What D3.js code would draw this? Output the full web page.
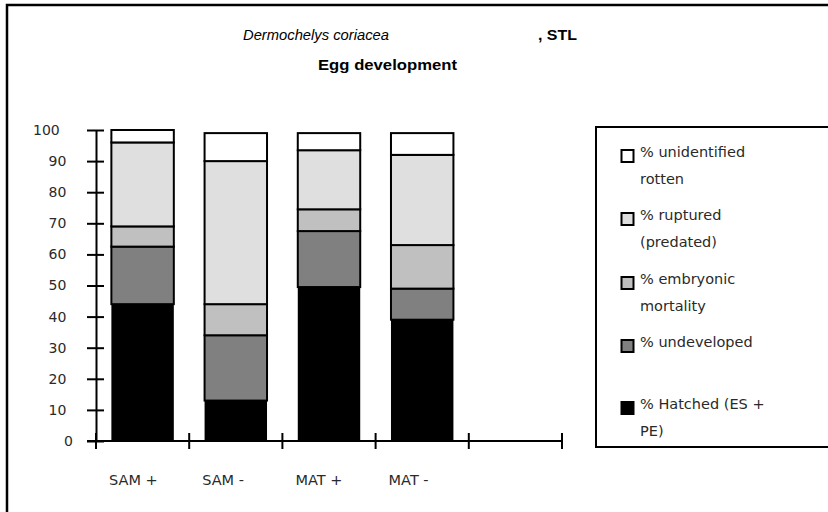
<!DOCTYPE html>
<html><head><meta charset="utf-8">
<script src="https://cdn.jsdelivr.net/npm/d3@7/dist/d3.min.js"></script>
<style>
body{margin:0;background:#fff;}
svg{display:block;}
</style></head>
<body>
<svg id="c" width="828" height="512"></svg>
<script>
const categories = ["SAM +", "SAM -", "MAT +", "MAT -", ""];
const seriesNames = ["% Hatched (ES + PE)", "% undeveloped", "% embryonic mortality", "% ruptured (predated)", "% unidentified rotten"];
const hatched      = [44, 13, 49.5, 39];
const undeveloped  = [18.5, 21, 18, 10];
const embryonic    = [6.5, 10, 7, 14];
const ruptured     = [27, 46, 19, 29];
const unidentified = [4, 9, 5.5, 7];
const yTicks = [0, 10, 20, 30, 40, 50, 60, 70, 80, 90, 100];
const colors = ["#000000", "#808080", "#c0c0c0", "#dfdfdf", "#ffffff"];
const legendLines = [
  ["% unidentified", "rotten"],
  ["% ruptured", "(predated)"],
  ["% embryonic", "mortality"],
  ["% undeveloped"],
  ["% Hatched (ES +", "PE)"]
];
const legendColors = ["#ffffff", "#dfdfdf", "#c0c0c0", "#808080", "#000000"];
const legendY = [144, 207, 271, 334, 396];

const svg = d3.select("#c");
const font = "'DejaVu Sans', Verdana, sans-serif";
const sans = "'Liberation Sans', Arial, sans-serif";
const textFill = "#2a2a2a";

// outer frame
svg.append("rect").attr("x", 7).attr("y", 5).attr("width", 900).attr("height", 600)
  .attr("fill", "none").attr("stroke", "#000").attr("stroke-width", 2.5);

// titles
svg.append("text").attr("x", 243).attr("y", 40).attr("font-family", sans).attr("font-size", 14.5)
  .attr("font-style", "italic").attr("textLength", 146).attr("lengthAdjust", "spacingAndGlyphs")
  .text("Dermochelys coriacea");
svg.append("text").attr("x", 538).attr("y", 40).attr("font-family", sans).attr("font-size", 15)
  .attr("font-weight", "bold").attr("textLength", 39).attr("lengthAdjust", "spacingAndGlyphs")
  .text(", STL");
svg.append("text").attr("x", 318).attr("y", 70).attr("font-family", sans).attr("font-size", 15)
  .attr("font-weight", "bold").attr("textLength", 139).attr("lengthAdjust", "spacingAndGlyphs")
  .text("Egg development");

const x = d3.scaleBand().domain(categories).range([96, 562]).padding(0);
const y = d3.scaleLinear().domain([0, 100]).range([441, 130]);

const rows = categories.slice(0, 4).map((c, i) => ({
  cat: c, v: [hatched[i], undeveloped[i], embryonic[i], ruptured[i], unidentified[i]]
}));
const stackData = rows.map(r => { const o = {cat: r.cat}; r.v.forEach((v, k) => o["s" + k] = v); return o; });
const stack = d3.stack().keys([0,1,2,3,4].map(k => "s" + k))(stackData);

const bw = x.bandwidth() * 0.67;
const off = (x.bandwidth() - bw) / 2;
stack.forEach((layer, k) => {
  svg.append("g").selectAll("rect").data(layer).join("rect")
    .attr("x", d => x(d.data.cat) + off)
    .attr("y", d => y(d[1]))
    .attr("width", bw)
    .attr("height", d => y(d[0]) - y(d[1]))
    .attr("fill", colors[k])
    .attr("stroke", "#000")
    .attr("stroke-width", k === 0 ? 0 : 2);
});

// y axis
const yAxis = d3.axisLeft(y).tickValues(yTicks).tickSizeInner(8).tickSizeOuter(0).tickFormat(d3.format("d"));
const ya = svg.append("g").attr("transform", "translate(96,0)").call(yAxis);
ya.select(".domain").attr("stroke-width", 2);
ya.selectAll(".tick line").attr("x1", -9).attr("x2", 8).attr("stroke-width", 2);
ya.selectAll(".tick text")
  .attr("text-anchor", "start")
  .attr("x", d => -16.5 - 15.5 * String(d).length)
  .attr("font-family", font).attr("font-size", 14).attr("fill", textFill);

// x axis
const boundaries = categories.map(c => x(c)).concat([x.range()[1]]);
const xa = svg.append("g");
xa.append("line").attr("x1", 87).attr("x2", 562).attr("y1", y(0)).attr("y2", y(0))
  .attr("stroke", "#000").attr("stroke-width", 2);
xa.selectAll("line.t").data(boundaries).join("line").attr("class", "t")
  .attr("x1", d => d).attr("x2", d => d).attr("y1", y(0) - 8).attr("y2", y(0) + 8)
  .attr("stroke", "#000").attr("stroke-width", 2);
xa.selectAll("text").data(categories.slice(0, 4)).join("text")
  .attr("x", d => x(d) + 13).attr("y", 485)
  .attr("font-family", font).attr("font-size", 14.5).attr("fill", textFill).text(d => d);

// legend
const lg = svg.append("g");
lg.append("rect").attr("x", 596).attr("y", 127).attr("width", 300).attr("height", 320)
  .attr("fill", "#fff").attr("stroke", "#000").attr("stroke-width", 2);
legendLines.forEach((lines, i) => {
  lg.append("rect").attr("x", 621.5).attr("y", legendY[i] + 6).attr("width", 12).attr("height", 12)
    .attr("fill", legendColors[i]).attr("stroke", "#000").attr("stroke-width", 2);
  lines.forEach((ln, j) => {
    lg.append("text").attr("x", 640).attr("y", legendY[i] + 13 + j * 27)
      .attr("font-family", font).attr("font-size", 14.5).attr("fill", textFill).text(ln);
  });
});
</script>
</body></html>
